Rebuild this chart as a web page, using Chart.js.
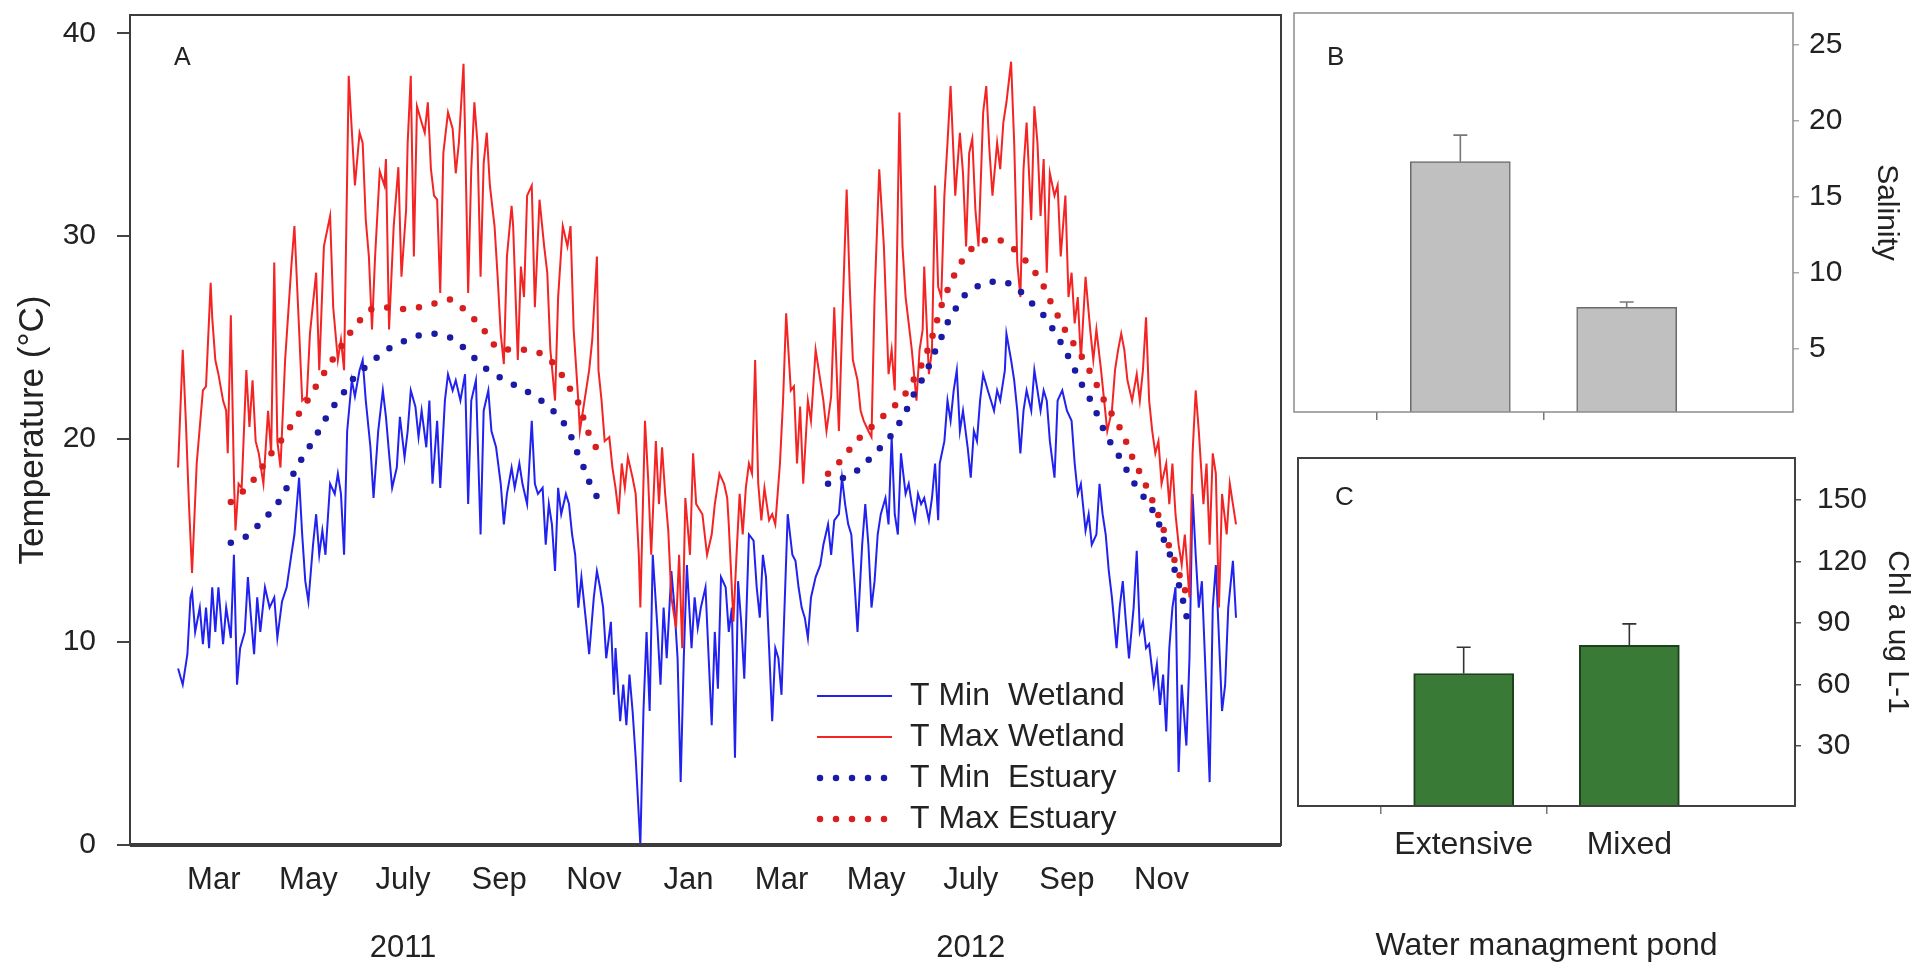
<!DOCTYPE html>
<html>
<head>
<meta charset="utf-8">
<title>Temperature, salinity and chlorophyll</title>
<script src="https://cdn.jsdelivr.net/npm/chart.js@4.4.0/dist/chart.umd.min.js"></script>
<style>
  body { margin: 0; background: #fff; width: 1923px; height: 972px; overflow: hidden; position: relative; }
  canvas { position: absolute; }
  #tempChart { left: 0; top: 0; }
  #salinityChart { left: 1285px; top: 0; }
  #chlChart { left: 1285px; top: 425px; }
</style>
</head>
<body>
<canvas id="tempChart" width="1288" height="972"></canvas>
<canvas id="salinityChart" width="638" height="425"></canvas>
<canvas id="chlChart" width="638" height="547"></canvas>
<script>
// x values are days counted from 1 Jan 2011
const monthTickDays = [59, 120, 181, 243, 304, 365, 425, 486, 547, 609, 670];
const monthTickLabels = ['Mar', 'May', ['July', '', '2011'], 'Sep', 'Nov', 'Jan', 'Mar', 'May', ['July', '', '2012'], 'Sep', 'Nov'];
const tempTicks = [0, 10, 20, 30, 40];

// [day, °C]
const tMinWetland = [[36,8.7],[39,7.9],[42,9.4],[44,12.2],[45,12.5],[47,10.5],[50,11.7],[52,9.9],[54,11.7],[56,9.7],[58,12.7],[60,10.5],[62,12.7],[65,9.9],[67,11.7],[70,10.2],[72,14.3],[74,7.9],[76,9.7],[79,10.5],[81,13.2],[83,11.2],[85,9.4],[87,12.2],[89,10.5],[92,12.7],[95,11.7],[98,12.2],[100,10.2],[103,12.0],[106,12.7],[109,14.3],[111,15.3],[114,18.1],[116,15.3],[118,13.0],[120,12.0],[123,14.8],[125,16.3],[127,14.3],[129,15.5],[131,14.3],[134,17.8],[137,17.3],[139,18.3],[141,17.3],[143,14.3],[145,20.4],[148,22.9],[150,22.1],[153,23.4],[155,23.9],[157,21.9],[160,19.6],[162,17.1],[165,20.4],[168,22.4],[170,21.1],[172,19.3],[174,17.6],[177,18.6],[179,21.1],[182,19.1],[184,20.4],[186,22.4],[189,21.6],[191,20.1],[193,21.4],[196,19.6],[198,21.9],[200,17.8],[203,20.9],[205,17.6],[208,21.9],[210,23.2],[213,22.4],[215,22.9],[218,21.9],[221,23.2],[223,16.8],[225,21.9],[228,22.9],[231,15.3],[233,21.4],[236,22.4],[238,20.4],[241,19.6],[244,17.8],[246,15.8],[248,17.3],[251,18.6],[253,17.6],[256,18.8],[258,17.8],[261,16.8],[264,20.9],[266,17.8],[268,17.3],[271,17.6],[273,14.8],[275,16.8],[277,15.8],[279,13.5],[281,17.6],[283,16.3],[286,17.3],[288,16.8],[290,15.3],[292,14.3],[294,11.7],[296,13.2],[299,11.0],[301,9.4],[304,12.2],[306,13.5],[308,12.7],[310,11.7],[312,9.2],[315,11.0],[317,7.4],[318,9.7],[321,6.1],[323,7.9],[325,5.9],[327,8.4],[329,6.6],[331,4.3],[334,0.0],[336,6.6],[338,10.5],[340,6.6],[342,14.3],[345,10.7],[347,7.9],[349,11.7],[351,9.2],[354,13.5],[356,11.7],[358,9.2],[360,3.1],[362,9.2],[364,13.8],[367,9.7],[369,12.2],[371,10.7],[373,11.7],[376,12.7],[380,5.9],[382,10.5],[384,7.7],[386,13.2],[389,12.7],[391,10.5],[393,11.7],[395,4.3],[397,13.0],[399,11.0],[401,8.2],[404,15.3],[407,15.0],[409,12.7],[411,11.2],[413,14.3],[415,13.2],[417,9.7],[419,6.1],[421,9.7],[423,9.2],[425,7.4],[429,16.3],[432,14.3],[434,14.0],[436,12.7],[438,11.7],[440,11.2],[442,10.2],[444,12.2],[447,13.2],[450,13.8],[452,14.8],[455,15.8],[457,14.3],[459,16.0],[462,16.3],[464,18.1],[466,16.8],[468,15.8],[470,15.3],[472,13.0],[474,10.5],[477,14.8],[479,16.8],[481,14.8],[483,11.7],[485,13.0],[487,15.3],[489,16.3],[492,17.1],[494,15.8],[496,20.1],[498,16.3],[500,15.3],[502,19.3],[505,17.3],[507,17.8],[509,16.8],[511,16.0],[513,17.3],[515,16.8],[517,17.1],[520,16.0],[522,17.1],[524,18.8],[526,16.0],[527,18.8],[530,19.9],[532,21.9],[534,20.9],[536,22.4],[538,23.4],[540,20.4],[542,21.4],[545,19.6],[547,18.1],[549,20.4],[551,19.9],[553,21.9],[555,23.2],[558,22.4],[560,21.9],[562,21.4],[564,22.4],[566,21.9],[569,23.4],[570,25.2],[573,23.9],[575,22.9],[577,21.4],[579,19.3],[581,21.4],[583,22.4],[586,21.4],[588,23.4],[590,22.4],[592,21.4],[594,22.4],[596,21.9],[598,19.9],[601,18.1],[603,21.9],[606,22.4],[609,21.4],[612,20.9],[614,18.8],[616,17.3],[618,17.8],[621,15.5],[623,16.3],[625,14.8],[628,15.3],[630,17.8],[632,16.3],[634,15.3],[636,13.5],[638,12.2],[641,9.7],[643,11.7],[645,13.0],[647,11.0],[649,9.2],[652,11.7],[654,14.5],[656,10.5],[658,11.0],[660,9.7],[662,9.9],[665,7.9],[667,8.9],[669,6.9],[671,8.4],[673,5.6],[675,9.7],[677,11.7],[679,12.7],[681,3.6],[683,7.9],[686,4.9],[688,9.2],[690,17.3],[692,14.3],[694,11.7],[696,13.0],[698,9.2],[701,3.1],[703,11.7],[705,13.8],[707,10.2],[709,6.6],[711,7.9],[713,11.7],[716,14.0],[718,11.2]];

const tMaxWetland = [[36,18.6],[39,24.4],[41,20.9],[43,16.8],[45,13.4],[48,18.8],[52,22.4],[54,22.6],[57,27.7],[58,26.0],[60,23.9],[62,23.2],[65,21.9],[67,21.4],[68,19.3],[70,26.1],[72,18.1],[73,15.5],[75,17.8],[77,17.6],[80,23.4],[82,20.6],[84,22.9],[86,19.9],[88,19.3],[91,17.8],[94,21.4],[96,19.3],[98,28.7],[100,19.9],[102,18.6],[105,23.9],[109,28.5],[111,30.5],[114,25.4],[116,21.9],[119,22.1],[121,25.2],[125,28.2],[127,23.4],[130,29.5],[134,31.0],[136,26.5],[139,23.9],[141,24.9],[143,23.4],[146,37.9],[150,32.5],[153,35.1],[155,34.6],[157,30.8],[159,29.0],[161,25.4],[163,29.0],[166,33.2],[169,32.5],[170,33.8],[172,25.4],[175,30.5],[178,33.4],[180,28.0],[183,31.3],[184,34.6],[186,37.9],[188,29.0],[190,36.4],[193,35.6],[195,35.1],[197,36.6],[199,33.3],[201,32.0],[203,31.8],[205,27.2],[207,34.1],[210,36.1],[213,35.3],[215,33.1],[217,34.6],[220,38.5],[221,35.1],[223,27.2],[225,33.3],[227,36.6],[229,34.6],[231,28.0],[233,33.6],[235,35.1],[237,32.5],[240,30.5],[242,28.0],[244,25.2],[246,23.7],[248,29.0],[251,31.5],[252,30.5],[255,23.9],[257,28.5],[259,27.0],[261,32.0],[264,32.5],[266,26.5],[269,31.8],[272,29.5],[274,28.2],[276,24.4],[279,21.9],[281,27.0],[284,30.5],[287,29.5],[289,30.5],[291,25.4],[294,21.9],[295,20.4],[298,21.9],[301,23.4],[303,24.9],[306,29.0],[307,23.4],[309,21.9],[311,19.9],[314,20.1],[316,18.6],[318,17.6],[320,16.3],[322,18.8],[324,17.6],[326,19.1],[329,18.1],[331,17.3],[333,14.3],[334,11.7],[337,20.9],[339,18.1],[341,14.3],[344,19.9],[346,16.8],[348,19.6],[350,17.3],[352,15.5],[354,12.2],[357,10.7],[359,14.3],[361,9.7],[363,17.1],[366,14.3],[368,19.3],[370,16.8],[374,16.3],[377,14.3],[380,15.3],[382,16.8],[385,18.3],[388,17.8],[390,17.1],[391,15.8],[394,11.0],[396,14.3],[398,17.3],[400,15.3],[402,17.6],[404,18.8],[406,18.3],[408,23.9],[410,17.8],[412,16.0],[414,17.6],[417,16.0],[419,16.3],[421,15.8],[424,18.8],[426,21.9],[428,26.2],[431,22.4],[433,22.6],[435,18.8],[437,21.6],[439,17.8],[442,21.9],[444,20.9],[447,24.4],[450,22.9],[452,21.9],[454,20.4],[457,22.1],[459,26.5],[462,20.4],[464,25.4],[467,32.3],[469,27.5],[471,23.9],[474,22.9],[476,21.4],[478,20.9],[481,20.4],[483,20.1],[485,27.0],[488,33.3],[491,29.5],[494,23.2],[496,24.4],[498,22.4],[501,36.1],[503,29.5],[505,27.0],[507,25.7],[509,24.4],[512,21.9],[514,24.4],[516,25.4],[517,28.5],[520,23.2],[522,24.4],[524,32.5],[526,27.5],[528,27.0],[530,32.0],[532,34.6],[534,37.4],[535,35.6],[537,32.0],[540,35.1],[542,33.1],[544,29.5],[546,34.1],[548,34.8],[550,31.3],[552,29.5],[555,36.1],[557,37.4],[559,34.3],[561,32.0],[564,34.6],[566,33.3],[568,35.6],[570,36.6],[573,38.6],[575,34.6],[577,28.7],[579,27.0],[581,33.3],[583,35.6],[586,30.8],[588,36.4],[590,34.6],[592,31.0],[594,33.8],[596,28.2],[598,33.1],[601,32.0],[603,32.5],[605,29.0],[608,32.0],[610,27.0],[612,28.2],[614,25.7],[616,27.0],[618,23.9],[621,28.0],[624,25.4],[626,23.9],[628,25.4],[631,23.4],[633,21.9],[635,20.4],[638,21.4],[640,23.4],[642,24.4],[644,25.2],[646,24.4],[648,22.9],[651,21.9],[654,23.2],[656,21.9],[658,23.4],[660,26.0],[662,21.9],[664,20.4],[666,19.3],[668,19.9],[670,17.8],[673,18.8],[675,16.8],[677,18.8],[679,16.3],[681,14.8],[683,13.8],[685,15.3],[688,12.2],[690,19.3],[692,22.4],[694,20.4],[697,16.8],[699,18.8],[701,14.8],[703,19.3],[705,18.3],[707,11.7],[709,17.3],[712,15.3],[714,17.8],[716,16.8],[718,15.8]];

// estuary records have a gap over the winter (null breaks the line)
const tMinEstuary = [[70,14.9],[80,15.2],[91,16.0],[100,16.8],[106,17.6],[111,18.4],[117,19.2],[123,19.9],[134,21.4],[142,22.2],[150,23.1],[159,23.7],[170,24.4],[181,24.8],[190,25.1],[201,25.2],[212,25.0],[222,24.4],[232,23.6],[242,23.1],[252,22.7],[262,22.3],[272,21.8],[282,21.1],[288,20.4],[293,19.4],[297,18.7],[301,17.9],[307,17.0],[380,null],[455,17.8],[465,18.1],[475,18.5],[494,20.0],[501,20.8],[506,21.5],[512,22.5],[518,23.2],[522,24.0],[527,24.8],[531,25.6],[537,26.4],[544,27.2],[555,27.7],[565,27.8],[575,27.6],[585,26.8],[594,26.1],[601,25.3],[607,24.5],[613,23.6],[617,22.9],[623,22.1],[628,21.3],[633,20.4],[638,19.7],[644,19.0],[650,18.1],[656,17.4],[660,17.0],[665,16.4],[669,15.7],[672,14.9],[676,14.2],[679,13.4],[682,12.6],[685,11.7],[687,10.9]];

const tMaxEstuary = [[70,16.9],[76,17.3],[83,17.8],[90,18.6],[97,19.4],[104,20.1],[110,20.8],[117,21.6],[128,23.0],[138,24.2],[150,25.6],[160,26.4],[169,26.5],[182,26.4],[192,26.5],[202,26.7],[212,26.9],[222,26.3],[232,25.5],[241,24.5],[250,24.4],[261,24.4],[271,24.2],[280,23.6],[287,22.7],[294,21.8],[300,20.4],[306,19.5],[380,null],[455,18.3],[464,19.0],[473,19.9],[493,21.3],[503,22.0],[510,22.9],[517,23.9],[522,25.0],[529,26.8],[534,27.7],[539,28.5],[546,29.3],[556,29.8],[566,29.8],[576,29.3],[586,28.5],[593,27.7],[597,27.0],[603,26.1],[609,25.2],[616,24.4],[622,23.6],[628,22.7],[633,21.9],[639,21.1],[645,20.3],[650,19.3],[655,18.5],[659,17.9],[662,17.3],[666,16.7],[669,16.0],[672,15.4],[675,14.7],[679,13.9],[682,13.2],[685,12.6],[687,11.9]];

// panels B and C
const pondTypes = ['Extensive', 'Mixed'];
const salinityMean = [17.3, 7.7];
const salinityErr = [1.75, 0.35];
const salinityTicks = [5, 10, 15, 20, 25];
const chlMean = [65.3, 79.0];
const chlErr = [12.8, 10.5];
const chlTicks = [30, 60, 90, 120, 150];

const fontFamily = '"Liberation Sans", Arial, Helvetica, sans-serif';
Chart.defaults.font.family = fontFamily;
Chart.defaults.font.size = 30;
Chart.defaults.color = '#222';

function toPoints(pairs) {
    return pairs.map(p => ({ x: p[0], y: p[1] }));
}

// keep Chart.js from adding room for half tick labels, so the plot boxes sit where the layout says
function fixScale(size) {
    return scale => {
        if (scale.isHorizontal()) scale.height = size; else scale.width = size;
        scale.paddingTop = 0;
        scale.paddingBottom = 0;
        scale.paddingLeft = 0;
        scale.paddingRight = 0;
    };
}

// box around the plot area
function frameBox(color, width, bottomWidth) {
    return {
        id: 'frameBox',
        afterDatasetsDraw(chart) {
            const { ctx, chartArea: a } = chart;
            ctx.save();
            ctx.strokeStyle = color;
            ctx.lineWidth = width;
            ctx.strokeRect(a.left, a.top, a.right - a.left, a.bottom - a.top);
            if (bottomWidth) {
                ctx.lineWidth = bottomWidth;
                ctx.beginPath();
                ctx.moveTo(a.left, a.bottom);
                ctx.lineTo(a.right, a.bottom);
                ctx.stroke();
            }
            ctx.restore();
        }
    };
}

// panel letter A / B / C
function panelLetter(letter, dx, dy, size) {
    return {
        id: 'panelLetter',
        afterDraw(chart) {
            const { ctx, chartArea: a } = chart;
            ctx.save();
            ctx.font = size + 'px ' + fontFamily;
            ctx.fillStyle = '#222';
            ctx.textBaseline = 'alphabetic';
            ctx.fillText(letter, a.left + dx, a.top + dy);
            ctx.restore();
        }
    };
}

// legend drawn inside the plot area of panel A
const insideLegend = {
    id: 'insideLegend',
    afterDatasetsDraw(chart) {
        const { ctx, chartArea: a } = chart;
        const lineStart = a.left + 687, lineEnd = a.left + 762;
        const textX = a.left + 780, secondX = a.left + 878;
        const firstRow = a.top + 681, rowStep = 41;
        ctx.save();
        ctx.font = '32px ' + fontFamily;
        ctx.textBaseline = 'middle';
        chart.data.datasets.forEach((ds, i) => {
            const y = firstRow + i * rowStep;
            ctx.beginPath();
            ctx.strokeStyle = ds.borderColor;
            ctx.lineWidth = ds.borderWidth;
            ctx.lineCap = ds.borderCapStyle || 'butt';
            ctx.setLineDash(ds.borderDash || []);
            ctx.moveTo(ds.borderDash ? lineStart + 3 : lineStart, y);
            ctx.lineTo(lineEnd, y);
            ctx.stroke();
            ctx.setLineDash([]);
            const words = ds.label.split(' ');
            ctx.fillStyle = '#222';
            ctx.fillText(words.slice(0, 2).join(' '), textX, y);
            ctx.fillText(words.slice(2).join(' '), secondX, y);
        });
        ctx.restore();
    }
};

// one-sided error bars above each bar
function errorBars(errors, color) {
    return {
        id: 'errorBars',
        afterDatasetsDraw(chart) {
            const { ctx } = chart;
            const meta = chart.getDatasetMeta(0);
            const values = chart.data.datasets[0].data;
            const yScale = chart.scales.y;
            ctx.save();
            ctx.strokeStyle = color;
            ctx.lineWidth = 1.6;
            meta.data.forEach((bar, i) => {
                if (values[i] == null) return;
                const top = yScale.getPixelForValue(values[i] + errors[i - 1]);
                ctx.beginPath();
                ctx.moveTo(bar.x, bar.y);
                ctx.lineTo(bar.x, top);
                ctx.moveTo(bar.x - 7, top);
                ctx.lineTo(bar.x + 7, top);
                ctx.stroke();
            });
            ctx.restore();
        }
    };
}

// ---------- Panel A: temperature ----------
new Chart(document.getElementById('tempChart'), {
    type: 'line',
    data: {
        datasets: [
            {
                label: 'T Min Wetland',
                data: toPoints(tMinWetland),
                borderColor: '#2222f0',
                borderWidth: 2,
                pointRadius: 0,
                order: 3
            },
            {
                label: 'T Max Wetland',
                data: toPoints(tMaxWetland),
                borderColor: '#f42424',
                borderWidth: 2,
                pointRadius: 0,
                order: 2
            },
            {
                label: 'T Min Estuary',
                data: toPoints(tMinEstuary),
                borderColor: '#1a1aa6',
                borderWidth: 6.5,
                borderDash: [0, 16],
                borderCapStyle: 'round',
                pointRadius: 0,
                order: 1
            },
            {
                label: 'T Max Estuary',
                data: toPoints(tMaxEstuary),
                borderColor: '#d81e1e',
                borderWidth: 6.5,
                borderDash: [0, 16],
                borderCapStyle: 'round',
                pointRadius: 0,
                order: 0
            }
        ]
    },
    options: {
        responsive: false,
        animation: false,
        events: [],
        layout: { padding: { left: 0, top: 15, right: 7, bottom: 0 } },
        plugins: { legend: { display: false }, tooltip: { enabled: false } },
        scales: {
            x: {
                type: 'linear',
                min: 5,
                max: 747,
                border: { display: false },
                grid: { display: false, drawTicks: false },
                ticks: {
                    autoSkip: false,
                    maxRotation: 0,
                    minRotation: 0,
                    padding: 18,
                    color: '#222',
                    font: { size: 31, lineHeight: 1.1 },
                    callback: (value, index) => monthTickLabels[index]
                },
                afterBuildTicks: scale => {
                    scale.ticks = monthTickDays.map(d => ({ value: d }));
                },
                afterFit: fixScale(127)
            },
            y: {
                min: 0,
                max: 40.9,
                border: { display: false },
                grid: { drawOnChartArea: false, drawTicks: true, tickLength: 13, tickColor: '#444', lineWidth: 2 },
                ticks: { padding: 21, color: '#222', font: { size: 30 } },
                afterBuildTicks: scale => {
                    scale.ticks = tempTicks.map(v => ({ value: v }));
                },
                title: {
                    display: true,
                    text: 'Temperature (°C)',
                    color: '#222',
                    font: { size: 35 },
                    padding: { top: 12, bottom: 0 }
                },
                afterFit: fixScale(130)
            }
        }
    },
    plugins: [frameBox('#3c3c3c', 2, 4), insideLegend, panelLetter('A', 44, 50, 25)]
});

// ---------- Panels B and C: bar charts ----------
function barChart(canvasId, opts) {
    return new Chart(document.getElementById(canvasId), {
        type: 'bar',
        data: {
            labels: ['', ...pondTypes, ''],
            datasets: [{
                label: opts.title,
                data: [null, ...opts.values, null],
                backgroundColor: opts.fill,
                borderColor: opts.edge,
                borderWidth: opts.edgeWidth,
                barThickness: 100
            }]
        },
        options: {
            responsive: false,
            animation: false,
            events: [],
            layout: { padding: opts.padding },
            plugins: { legend: { display: false }, tooltip: { enabled: false } },
            scales: {
                x: {
                    offset: false,
                    border: { display: false },
                    grid: {
                        drawOnChartArea: false,
                        drawTicks: true,
                        tickLength: 8,
                        lineWidth: 1.5,
                        tickColor: c => (c.index === 1 || c.index === 2) ? '#777' : 'rgba(0,0,0,0)'
                    },
                    ticks: {
                        padding: opts.xLabelPadding,
                        color: '#222',
                        maxRotation: 0,
                        font: { size: 32 },
                        callback: function (value) {
                            return opts.showCategories ? this.getLabelForValue(value) : '';
                        }
                    },
                    title: opts.xTitle ? {
                        display: true,
                        text: opts.xTitle,
                        color: '#222',
                        font: { size: 32 },
                        padding: { top: 0, bottom: opts.xTitlePad }
                    } : { display: false },
                    afterFit: fixScale(opts.xHeight)
                },
                y: {
                    position: 'right',
                    min: opts.min,
                    max: opts.max,
                    border: { display: false },
                    grid: { drawOnChartArea: false, drawTicks: true, tickLength: 6, tickColor: opts.tickColor, lineWidth: 1.5 },
                    ticks: { padding: opts.yLabelPadding, color: '#222', font: { size: 30 } },
                    afterBuildTicks: scale => {
                        scale.ticks = opts.ticks.map(v => ({ value: v }));
                    },
                    title: {
                        display: true,
                        text: opts.title,
                        color: '#222',
                        font: { size: 30 },
                        padding: { top: opts.yTitlePad, bottom: 0 }
                    },
                    afterFit: fixScale(opts.yWidth)
                }
            }
        },
        plugins: [
            frameBox(opts.frameColor, opts.frameWidth, 0),
            errorBars(opts.errors, opts.errColor),
            panelLetter(opts.letter, opts.letterDx, opts.letterDy, 26)
        ]
    });
}

barChart('salinityChart', {
    title: 'Salinity',
    values: salinityMean,
    errors: salinityErr,
    ticks: salinityTicks,
    min: 0.8,
    max: 27.1,
    fill: '#c0c0c0',
    edge: '#6a6a6a',
    edgeWidth: 1.5,
    errColor: '#777',
    tickColor: '#aaa',
    frameColor: '#8c8c8c',
    frameWidth: 1.5,
    padding: { left: 9, top: 13, right: 0, bottom: 0 },
    xHeight: 13,
    xLabelPadding: 0,
    showCategories: false,
    yWidth: 130,
    yLabelPadding: 10,
    yTitlePad: 19,
    letter: 'B',
    letterDx: 33,
    letterDy: 52
});

barChart('chlChart', {
    title: 'Chl a ug L-1',
    values: chlMean,
    errors: chlErr,
    ticks: chlTicks,
    min: 0.6,
    max: 170.5,
    fill: '#3a7a37',
    edge: '#1f401d',
    edgeWidth: 2,
    errColor: '#333',
    tickColor: '#555',
    frameColor: '#404040',
    frameWidth: 2,
    padding: { left: 13, top: 33, right: 0, bottom: 0 },
    xHeight: 166,
    xLabelPadding: 12,
    showCategories: true,
    xTitle: 'Water managment pond',
    xTitlePad: 7,
    yWidth: 128,
    yLabelPadding: 16,
    yTitlePad: 8,
    letter: 'C',
    letterDx: 37,
    letterDy: 47
});
</script>
</body>
</html>
